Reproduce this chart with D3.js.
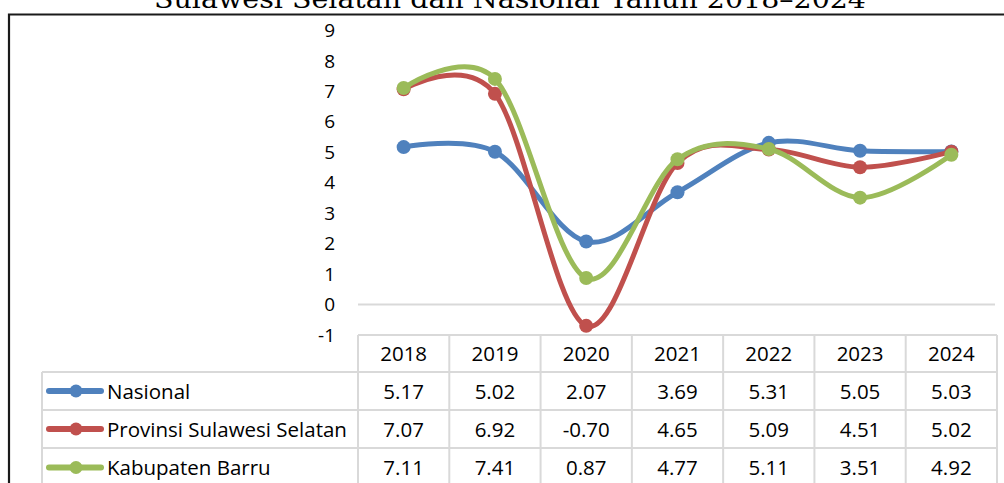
<!DOCTYPE html>
<html>
<head>
<meta charset="utf-8">
<script src="https://cdn.jsdelivr.net/npm/d3@7"></script>
<style>
  body { margin: 0; background: #fff; }
  svg { display: block; }
</style>
</head>
<body>
<div id="chart"></div>
<script>
// values
const years = ["2018", "2019", "2020", "2021", "2022", "2023", "2024"];
const nasional = [5.17, 5.02, 2.07, 3.69, 5.31, 5.05, 5.03];
const sulsel = [7.07, 6.92, -0.70, 4.65, 5.09, 4.51, 5.02];
const barru = [7.11, 7.41, 0.87, 4.77, 5.11, 3.51, 4.92];
const seriesNames = ["Nasional", "Provinsi Sulawesi Selatan", "Kabupaten Barru"];
const seriesColors = ["#4F81BD", "#C0504D", "#9BBB59"];
const yTicks = [-1, 0, 1, 2, 3, 4, 5, 6, 7, 8, 9];
const titleText = "Sulawesi Selatan dan Nasional Tahun 2018\u20132024";

const width = 1004, height = 483;
const font = "'Open Sans', sans-serif";

const svg = d3.select("#chart").append("svg")
    .attr("width", width)
    .attr("height", height)

// plot area
const plot = {left: 358, right: 997, top: 30.5, bottom: 335};

const xScale = d3.scaleBand()
    .domain(years)
    .range([plot.left, plot.right])

const yScale = d3.scaleLinear()
    .domain([-1, 9])
    .range([plot.bottom, plot.top])

// title (cut off at the top like in the source)
svg.append("text")
    .attr("x", 510)
    .attr("y", 7.5)
    .attr("text-anchor", "middle")
    .attr("textLength", 712)
    .attr("lengthAdjust", "spacingAndGlyphs")
    .style("font-family", "'DejaVu Serif', serif")
    .style("font-size", "26px")
    .attr("fill", "#000")
    .text(titleText)

// outer frame: top and left edge only are visible
svg.append("path")
    .attr("d", `M9,${height} V14.5 H${width}`)
    .attr("fill", "none")
    .attr("stroke", "#1a1a1a")
    .attr("stroke-width", 2.2)

// zero gridline
svg.append("line")
    .attr("x1", plot.left).attr("x2", plot.right - 2)
    .attr("y1", yScale(0)).attr("y2", yScale(0))
    .attr("stroke", "#D9D9D9")
    .attr("stroke-width", 2)

// y axis labels (plain hyphen for the minus, like Excel)
const yAxis = d3.axisLeft(yScale)
    .tickValues(yTicks)
    .tickSize(0)
    .tickPadding(23)
    .tickFormat(d => String(d))

const yG = svg.append("g")
    .attr("transform", `translate(${plot.left},0)`)
    .call(yAxis)
yG.select(".domain").remove()
yG.selectAll("text")
    .style("font-family", font)
    .style("font-size", "19px")
    .attr("fill", "#000")

// lines + markers
const allSeries = [nasional, sulsel, barru];
const line = d3.line()
    .x((d, i) => xScale(years[i]) + xScale.bandwidth() / 2)
    .y(d => yScale(d))
    .curve(d3.curveCardinal.tension(0))

allSeries.forEach((vals, s) => {
    const g = svg.append("g").attr("class", "series");
    g.append("path")
        .datum(vals)
        .attr("d", line)
        .attr("fill", "none")
        .attr("stroke", seriesColors[s])
        .attr("stroke-width", 5)
        .attr("stroke-linecap", "round")
        .attr("stroke-linejoin", "round")
    g.selectAll("circle")
        .data(vals)
        .enter()
        .append("circle")
            .attr("cx", (d, i) => xScale(years[i]) + xScale.bandwidth() / 2)
            .attr("cy", d => yScale(d))
            .attr("r", 7)
            .attr("fill", seriesColors[s])
});

// data table
const rowTops = [335, 372, 410, 448, 487];
const legendLeft = 42;
const grid = svg.append("g").attr("class", "table-grid")
    .attr("stroke", "#D9D9D9")
    .attr("stroke-width", 2)

// horizontal lines
grid.append("line")
    .attr("x1", plot.left).attr("x2", plot.right)
    .attr("y1", rowTops[0]).attr("y2", rowTops[0])
rowTops.slice(1).forEach(y => {
    grid.append("line")
        .attr("x1", legendLeft).attr("x2", plot.right)
        .attr("y1", y).attr("y2", y)
});
// vertical lines
const colEdges = years.map(y => xScale(y)).concat([plot.right]);
colEdges.forEach(x => {
    grid.append("line")
        .attr("x1", x).attr("x2", x)
        .attr("y1", rowTops[0]).attr("y2", height)
});
grid.append("line")
    .attr("x1", legendLeft).attr("x2", legendLeft)
    .attr("y1", rowTops[1]).attr("y2", height)

const cellText = (x, rowIdx, txt, anchor) => {
    const mid = (rowTops[rowIdx] + rowTops[rowIdx + 1]) / 2;
    svg.append("text")
        .attr("x", x)
        .attr("y", mid + 7.5)
        .attr("text-anchor", anchor)
        .style("font-family", font)
        .style("font-size", "20.5px")
        .attr("fill", "#000")
        .text(txt)
};

// header
years.forEach(y => cellText(xScale(y) + xScale.bandwidth() / 2, 0, y, "middle"));

// rows
allSeries.forEach((vals, s) => {
    const mid = (rowTops[s + 1] + rowTops[s + 2]) / 2;
    svg.append("line")
        .attr("x1", 49).attr("x2", 101)
        .attr("y1", mid).attr("y2", mid)
        .attr("stroke", seriesColors[s])
        .attr("stroke-width", 6)
        .attr("stroke-linecap", "round")
    svg.append("circle")
        .attr("cx", 76).attr("cy", mid)
        .attr("r", 6.5)
        .attr("fill", seriesColors[s])
    cellText(107, s + 1, seriesNames[s], "start");
    vals.forEach((v, i) => {
        cellText(xScale(years[i]) + xScale.bandwidth() / 2, s + 1, v.toFixed(2), "middle");
    });
});
</script>
</body>
</html>
